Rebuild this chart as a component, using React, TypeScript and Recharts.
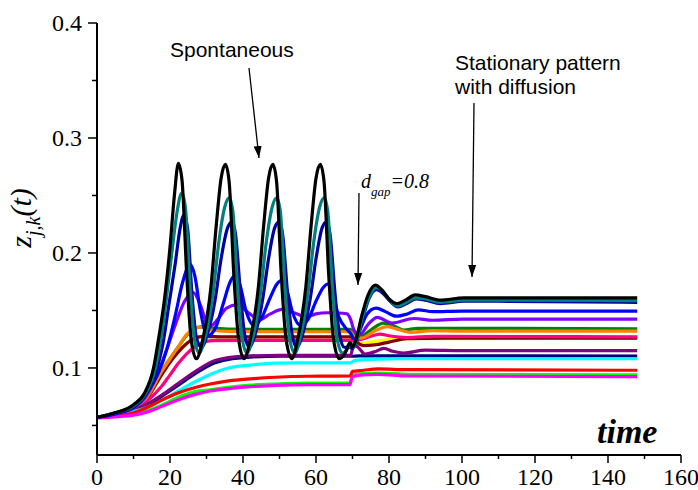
import React from 'react';
import { LineChart, Line, XAxis, YAxis } from 'recharts';

// ---- data: [time, z] pairs ----
const blackPts: number[][] = [[0,0.057],[5,0.061],[10,0.068],[13,0.078],[15.5,0.1],[17,0.128],[18.5,0.16],[20,0.205],[21.2,0.25],[22.3,0.278],[23.3,0.263],[24.6,0.18],[25.8,0.125],[27.2,0.108],[29,0.125],[31.2,0.17],[32.7,0.225],[34,0.265],[35.2,0.277],[36.2,0.262],[37.5,0.18],[38.8,0.125],[40.3,0.108],[42,0.125],[44.2,0.17],[45.7,0.225],[47,0.265],[48.2,0.277],[49.2,0.262],[50.5,0.18],[51.8,0.125],[53.4,0.108],[55,0.125],[57.2,0.17],[58.7,0.225],[60,0.265],[61.2,0.277],[62.2,0.262],[63.5,0.18],[64.8,0.125],[66.4,0.108],[68,0.113],[69.3,0.122],[70,0.118],[71,0.125],[72.5,0.145],[74.2,0.163],[76.3,0.172],[78,0.168],[80,0.16],[82.2,0.156],[84.5,0.159],[87.2,0.1635],[90,0.162],[94,0.159],[100.5,0.161],[110,0.161],[148,0.161]];
const darkCyanPts: number[][] = [[0,0.057],[5,0.061],[10,0.067],[13,0.076],[16,0.1],[17.5,0.125],[19,0.16],[20.5,0.2],[22,0.237],[23.2,0.252],[24.2,0.24],[25.5,0.17],[26.7,0.125],[28,0.113],[29.7,0.128],[31.8,0.165],[33.4,0.21],[35,0.24],[36.2,0.248],[37.2,0.237],[38.5,0.17],[39.8,0.125],[41.1,0.113],[42.8,0.128],[44.8,0.165],[46.4,0.21],[48,0.24],[49.2,0.248],[50.2,0.237],[51.5,0.17],[52.8,0.125],[54.2,0.113],[55.8,0.128],[57.8,0.165],[59.4,0.21],[61,0.24],[62.2,0.248],[63.2,0.237],[64.5,0.17],[65.8,0.125],[67.2,0.113],[68.5,0.116],[69.5,0.122],[70.2,0.118],[71.2,0.125],[72.8,0.145],[74.5,0.161],[76.5,0.17],[78.2,0.167],[80.2,0.159],[82.4,0.154],[84.7,0.157],[87.4,0.161],[90,0.16],[94,0.157],[100.5,0.159],[110,0.159],[148,0.1585]];
const royalPts: number[][] = [[0,0.057],[5,0.061],[10,0.066],[13,0.075],[16.5,0.1],[18,0.12],[19.7,0.155],[21.4,0.19],[22.8,0.222],[23.8,0.233],[24.8,0.222],[26,0.165],[27.2,0.127],[28.6,0.118],[30.3,0.13],[32.4,0.16],[34,0.195],[35.8,0.222],[37,0.227],[38,0.215],[39.3,0.165],[40.4,0.13],[41.7,0.118],[43.4,0.13],[45.4,0.16],[47,0.195],[48.7,0.222],[49.9,0.227],[50.9,0.215],[52.2,0.165],[53.4,0.13],[54.7,0.118],[56.4,0.13],[58.4,0.16],[60,0.195],[61.7,0.222],[62.9,0.227],[63.9,0.215],[65.2,0.165],[66.4,0.13],[67.7,0.118],[69,0.118],[70,0.117],[71.2,0.124],[72.8,0.143],[74.5,0.16],[76.6,0.168],[78.3,0.165],[80.3,0.158],[82.5,0.153],[84.8,0.156],[87.5,0.16],[90,0.159],[94,0.156],[100.5,0.158],[110,0.158],[148,0.157]];
const bluePts: number[][] = [[0,0.057],[5,0.06],[10,0.066],[14,0.08],[17,0.097],[19,0.115],[21.4,0.145],[23.5,0.175],[25.5,0.19],[26.8,0.18],[28.3,0.15],[30.3,0.128],[32.5,0.135],[34.5,0.155],[36.5,0.175],[37.9,0.181],[39.2,0.172],[40.8,0.15],[43,0.137],[45,0.143],[47.3,0.16],[49.3,0.173],[50.7,0.1765],[52,0.168],[53.6,0.148],[55.8,0.137],[57.8,0.142],[60,0.158],[62,0.17],[63.2,0.173],[64.5,0.165],[66.2,0.145],[68.3,0.134],[69.5,0.13],[70.5,0.125],[72,0.133],[74,0.147],[76.5,0.152],[79,0.149],[82,0.145],[85,0.147],[88,0.1505],[92,0.149],[100,0.1495],[148,0.1495]];
const violetPts: number[][] = [[0,0.057],[5,0.06],[10,0.065],[14,0.078],[17,0.098],[19.1,0.116],[21.5,0.138],[24,0.158],[26.4,0.1655],[28.3,0.155],[30,0.14],[31.3,0.137],[33,0.142],[35.5,0.152],[38.5,0.155],[41.5,0.148],[44.5,0.142],[47.5,0.147],[50.7,0.151],[54,0.148],[57.3,0.1445],[60,0.147],[63,0.148],[66,0.1478],[68.5,0.147],[69.5,0.142],[70.4,0.133],[72,0.129],[74.3,0.138],[76.8,0.144],[80.8,0.139],[86.8,0.143],[92,0.1415],[100,0.1425],[148,0.1425]];
const greenPts: number[][] = [[0,0.057],[5,0.06],[10,0.065],[14,0.076],[17.7,0.097],[20,0.108],[22.3,0.1185],[24.5,0.128],[26.9,0.1345],[28.5,0.1358],[31,0.1348],[36,0.1338],[50,0.1335],[69.5,0.1335],[70.5,0.129],[72,0.127],[75,0.133],[78.5,0.139],[81,0.137],[84,0.133],[88,0.1345],[95,0.1345],[148,0.134]];
const orangePts: number[][] = [[0,0.057],[5,0.06],[10,0.065],[14,0.076],[17.7,0.097],[20,0.108],[22.3,0.1185],[24.5,0.129],[26.9,0.1345],[28.5,0.1355],[31,0.133],[36,0.1318],[50,0.1315],[69.5,0.1315],[70.5,0.127],[72.5,0.126],[76,0.132],[79.5,0.136],[82,0.134],[86,0.131],[92,0.1325],[100,0.132],[148,0.132]];
const winePts: number[][] = [[0,0.057],[5,0.06],[10,0.065],[14,0.075],[17.7,0.094],[20,0.105],[22.3,0.114],[24.5,0.121],[26.9,0.126],[29,0.1275],[35,0.127],[69.5,0.127],[70.5,0.124],[73,0.1195],[76,0.12],[80,0.1225],[85,0.1255],[95,0.126],[148,0.126]];
const yellowPts: number[][] = [[0,0.057],[5,0.06],[10,0.065],[14,0.075],[17.7,0.094],[20,0.105],[22.3,0.114],[24.5,0.121],[26.9,0.126],[29,0.1275],[35,0.127],[69.5,0.127],[70.5,0.123],[72,0.1215],[74,0.122],[78,0.124],[85,0.1255],[148,0.126]];
const pinkPts: number[][] = [[0,0.057],[5,0.06],[10,0.064],[14,0.072],[17.7,0.084],[20,0.094],[22.3,0.104],[24.5,0.112],[26.9,0.1185],[29,0.122],[31.5,0.1237],[40,0.124],[69.5,0.124],[70.5,0.1235],[72.5,0.125],[75,0.1275],[77.5,0.1295],[80,0.128],[85,0.1265],[92,0.1275],[148,0.127]];
const purplePts: number[][] = [[0,0.057],[5,0.059],[10,0.063],[14,0.069],[18,0.077],[22.3,0.0867],[26.9,0.0968],[31.5,0.1055],[36,0.109],[42,0.1105],[50,0.111],[69.5,0.111],[70.3,0.12],[71.5,0.118],[73.5,0.112],[76,0.114],[78.6,0.117],[81,0.1145],[84,0.113],[90,0.1155],[100,0.115],[148,0.115]];
const navyPts: number[][] = [[0,0.057],[5,0.059],[10,0.063],[14,0.068],[18,0.076],[22.3,0.085],[26.9,0.095],[31.5,0.1035],[36,0.1075],[42,0.1095],[50,0.1102],[69.5,0.1102],[72,0.1105],[80,0.1105],[148,0.1104]];
const cyanPts: number[][] = [[0,0.057],[5,0.059],[10,0.062],[14,0.066],[18,0.072],[22.3,0.08],[26.9,0.088],[31.5,0.095],[36,0.1],[42,0.1025],[48.8,0.1042],[55,0.1045],[69.5,0.1045],[70.5,0.1065],[75,0.1075],[85,0.108],[148,0.108]];
const redPts: number[][] = [[0,0.057],[5,0.058],[10,0.061],[14,0.066],[17.7,0.072],[22,0.078],[26.9,0.083],[31,0.086],[36,0.0887],[42,0.0905],[48.8,0.0919],[58,0.0928],[69.3,0.093],[70,0.097],[73,0.098],[77,0.0992],[85,0.0985],[148,0.098]];
const limePts: number[][] = [[0,0.057],[5,0.058],[10,0.06],[14,0.063],[18,0.068],[22,0.074],[26.9,0.0794],[31,0.081],[36,0.0832],[42,0.085],[48.8,0.086],[58,0.0868],[69.3,0.087],[70,0.0935],[73,0.095],[77,0.0955],[85,0.0945],[148,0.094]];
const magentaPts: number[][] = [[0,0.0565],[5,0.0575],[10,0.059],[14,0.062],[18,0.067],[22,0.072],[26.9,0.077],[31,0.08],[36,0.082],[42,0.0838],[48.8,0.0848],[58,0.0855],[69.3,0.0855],[70,0.0925],[73,0.094],[77,0.0945],[85,0.093],[148,0.0925]];

const xTicks = [0, 10, 20, 30, 40, 50, 60, 70, 80, 90, 100, 110, 120, 130, 140, 150, 160];
const yTicks = [0.05, 0.1, 0.15, 0.2, 0.25, 0.3, 0.35, 0.4];

// drawing order (first = bottom)
const SERIES: { key: string; color: string; pts: number[][] }[] = [
  { key: 'yellow', color: '#FFFF00', pts: yellowPts },
  { key: 'wine', color: '#800000', pts: winePts },
  { key: 'pink', color: '#FF0080', pts: pinkPts },
  { key: 'green', color: '#008000', pts: greenPts },
  { key: 'orange', color: '#FF8000', pts: orangePts },
  { key: 'navy', color: '#000080', pts: navyPts },
  { key: 'purple', color: '#800080', pts: purplePts },
  { key: 'cyan', color: '#00FFFF', pts: cyanPts },
  { key: 'lime', color: '#00FF00', pts: limePts },
  { key: 'red', color: '#FF0000', pts: redPts },
  { key: 'magenta', color: '#FF00FF', pts: magentaPts },
  { key: 'violet', color: '#8000FF', pts: violetPts },
  { key: 'blue', color: '#0000FF', pts: bluePts },
  { key: 'royal', color: '#0000A0', pts: royalPts },
  { key: 'darkcyan', color: '#008080', pts: darkCyanPts },
  { key: 'black', color: '#000000', pts: blackPts },
];

const SERIF = '"Liberation Serif", "Times New Roman", serif';
const SANS = '"Liberation Sans", Arial, sans-serif';

const isMajorY = (v: number) => Math.abs(v * 10 - Math.round(v * 10)) < 1e-6;
const isMajorX = (v: number) => v % 20 === 0;

const YTick = (props: any) => {
  const { x, y, payload } = props;
  const v = payload.value as number;
  const major = isMajorY(v);
  return (
    <g>
      <line x1={x} x2={x - (major ? 9 : 5)} y1={y} y2={y} stroke="#000" strokeWidth={1.5} />
      {major && (
        <text x={x - 15} y={y} dy={8} textAnchor="end" fontFamily={SERIF} fontSize={24} fill="#000">
          {v.toFixed(1)}
        </text>
      )}
    </g>
  );
};

const XTick = (props: any) => {
  const { x, y, payload } = props;
  const v = payload.value as number;
  const major = isMajorX(v);
  return (
    <g>
      <line x1={x} x2={x} y1={y} y2={y + (major ? 8 : 4)} stroke="#000" strokeWidth={1.5} />
      {major && (
        <text x={x} y={y + 30} textAnchor="middle" fontFamily={SERIF} fontSize={24} fill="#000">
          {v}
        </text>
      )}
    </g>
  );
};

export default function App() {
  return (
    <div style={{ position: 'absolute', left: 0, top: 0, width: 698, height: 490, background: '#fff' }}>
      <LineChart width={698} height={490} margin={{ top: 23, right: 17, bottom: 0, left: 0 }}>
        <XAxis
          type="number"
          dataKey="t"
          domain={[0, 160]}
          ticks={xTicks}
          interval={0}
          allowDataOverflow
          height={35}
          tickSize={0}
          tickMargin={0}
          tickLine={false}
          tick={<XTick />}
          axisLine={{ stroke: '#000', strokeWidth: 2 }}
        />
        <YAxis
          type="number"
          dataKey="v"
          domain={[0.0243, 0.4]}
          ticks={yTicks}
          interval={0}
          allowDataOverflow
          width={97}
          tickSize={0}
          tickMargin={0}
          tickLine={false}
          tick={<YTick />}
          axisLine={{ stroke: '#000', strokeWidth: 2 }}
        />
        {SERIES.map((s) => (
          <Line
            key={s.key}
            data={s.pts.map(([t, v]) => ({ t, v }))}
            dataKey="v"
            type="monotone"
            stroke={s.color}
            strokeWidth={3.2}
            dot={false}
            activeDot={false}
            isAnimationActive={false}
          />
        ))}
      </LineChart>
      <svg width={698} height={490} style={{ position: 'absolute', left: 0, top: 0, pointerEvents: 'none' }}>
        <defs>
          <marker id="arr" viewBox="0 0 12 8" refX="12" refY="4" markerWidth="12" markerHeight="8" orient="auto" markerUnits="userSpaceOnUse">
            <path d="M0,0 L12,4 L0,8 Z" fill="#000" />
          </marker>
        </defs>
        <text x={170} y={57} fontFamily={SANS} fontSize={21} fill="#000">Spontaneous</text>
        <line x1={249} y1={68} x2={259} y2={158} stroke="#000" strokeWidth={1.3} markerEnd="url(#arr)" />
        <text x={455} y={70} fontFamily={SANS} fontSize={21} fill="#000">Stationary pattern</text>
        <text x={455} y={94} fontFamily={SANS} fontSize={21} fill="#000">with diffusion</text>
        <line x1={474} y1={103} x2={472} y2={277} stroke="#000" strokeWidth={1.3} markerEnd="url(#arr)" />
        <text x={361} y={188} fontFamily={SERIF} fontStyle="italic" fontSize={20} fill="#000">
          d<tspan fontSize={13} dy={8}>gap</tspan><tspan fontSize={20} dy={-8}>=0.8</tspan>
        </text>
        <line x1={359} y1={193} x2={358} y2={285} stroke="#000" strokeWidth={1.3} markerEnd="url(#arr)" />
        <text x={597} y={443} fontFamily={SERIF} fontStyle="italic" fontWeight="bold" fontSize={34} fill="#000">time</text>
        <text
          x={31}
          y={218}
          transform="rotate(-90 31 218)"
          textAnchor="middle"
          fontFamily={SERIF}
          fontStyle="italic"
          fontSize={30}
          fill="#000"
        >
          z<tspan fontSize={20} dy={9}>j,k</tspan><tspan fontSize={30} dy={-9}>(t)</tspan>
        </text>
      </svg>
    </div>
  );
}
